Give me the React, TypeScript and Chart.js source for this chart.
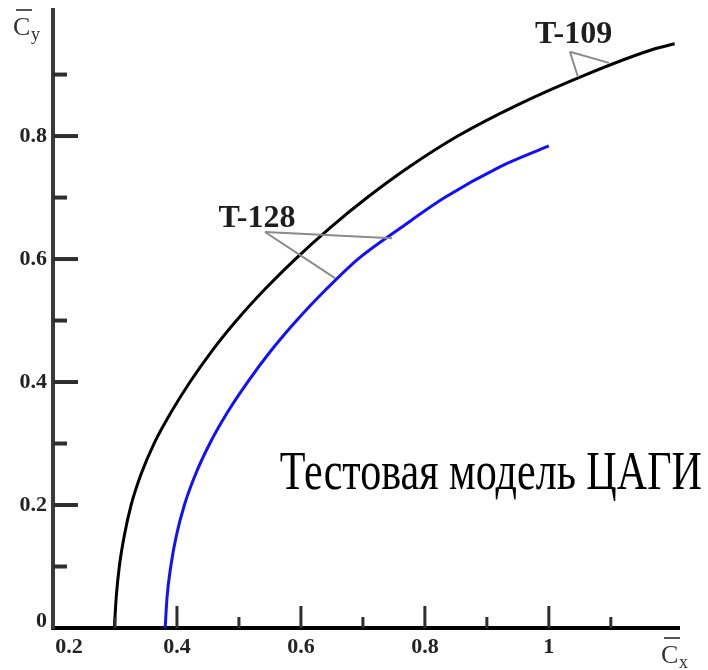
import React, { useEffect, useRef } from 'react';
import { Chart, registerables } from 'chart.js';

Chart.register(...registerables);

// Polar curves Cy(Cx) measured in two wind tunnels
const T109_CY = [0.00, 0.05, 0.10, 0.15, 0.20, 0.25, 0.30, 0.35, 0.40, 0.45, 0.50, 0.55, 0.60, 0.65, 0.70, 0.75, 0.80, 0.85, 0.90, 0.94, 0.95];
const T109_CX = [0.299, 0.302, 0.307, 0.315, 0.326, 0.342, 0.363, 0.390, 0.421, 0.456, 0.496, 0.541, 0.591, 0.646, 0.707, 0.775, 0.853, 0.948, 1.060, 1.165, 1.203];

const T128_CY = [0.00, 0.05, 0.10, 0.15, 0.20, 0.25, 0.30, 0.35, 0.40, 0.45, 0.50, 0.55, 0.60, 0.65, 0.70, 0.75, 0.784];
const T128_CX = [0.381, 0.384, 0.390, 0.399, 0.412, 0.430, 0.453, 0.481, 0.514, 0.551, 0.593, 0.640, 0.692, 0.760, 0.832, 0.921, 1.000];

// Axis ranges and tick marks
const X_MIN = 0.2;
const X_MAX = 1.21;
const Y_MIN = 0;
const Y_MAX = 1.005;
const X_MAJOR_TICKS = [0.4, 0.6, 0.8, 1.0];
const X_MINOR_TICKS = [0.3, 0.5, 0.7, 0.9, 1.1];
const Y_MAJOR_TICKS = [0.2, 0.4, 0.6, 0.8];
const Y_MINOR_TICKS = [0.1, 0.3, 0.5, 0.7, 0.9];
const X_LABEL_VALUES = [0.2, 0.4, 0.6, 0.8, 1.0];
const X_LABEL_TEXT = ['0.2', '0.4', '0.6', '0.8', '1'];
const Y_LABEL_VALUES = [0, 0.2, 0.4, 0.6, 0.8];
const Y_LABEL_TEXT = ['0', '0.2', '0.4', '0.6', '0.8'];

// Callouts naming each curve: label anchor, leader vertex, leader ends (data units)
const CALLOUT_NAMES = ['T-128', 'T-109'];
const CALLOUT_TEXT_AT = [[0.529, 0.652], [1.040, 0.951]];
const CALLOUT_VERTEX = [[0.542, 0.644], [1.034, 0.937]];
const CALLOUT_ENDS = [
  [[0.747, 0.634], [0.655, 0.569]],
  [[1.097, 0.919], [1.047, 0.896]],
];

const CAPTION = 'Тестовая модель ЦАГИ';
const CAPTION_AT = [0.566, 0.226];
const CAPTION_WIDTH = 422;

const SERIF = '"Liberation Serif", "DejaVu Serif", serif';

const decorPlugin = {
  id: 'polarDecor',
  afterDraw(chart: any) {
    const { ctx, chartArea } = chart;
    const xs = chart.scales.x;
    const ys = chart.scales.y;
    const px = (v: number) => xs.getPixelForValue(v);
    const py = (v: number) => ys.getPixelForValue(v);
    const x0 = px(X_MIN);
    const y0 = py(Y_MIN);

    ctx.save();

    // inward tick marks
    ctx.strokeStyle = '#2e2e2e';
    ctx.lineCap = 'butt';
    ctx.lineWidth = 3;
    const xTick = (v: number, len: number) => {
      const p = px(v);
      ctx.beginPath();
      ctx.moveTo(p, y0);
      ctx.lineTo(p, y0 - len);
      ctx.stroke();
    };
    X_MAJOR_TICKS.forEach((v) => xTick(v, 22));
    X_MINOR_TICKS.forEach((v) => xTick(v, 11));
    ctx.lineWidth = 4;
    const yTick = (v: number, len: number) => {
      const p = py(v);
      ctx.beginPath();
      ctx.moveTo(x0, p);
      ctx.lineTo(x0 + len, p);
      ctx.stroke();
    };
    Y_MAJOR_TICKS.forEach((v) => yTick(v, 25));
    Y_MINOR_TICKS.forEach((v) => yTick(v, 14));

    // tick labels
    ctx.fillStyle = '#222';
    ctx.font = `bold 22px ${SERIF}`;
    ctx.textBaseline = 'middle';
    ctx.textAlign = 'center';
    X_LABEL_VALUES.forEach((v, i) => {
      const nudge = v === X_MIN ? 16 : 0;
      ctx.fillText(X_LABEL_TEXT[i], px(v) + nudge, y0 + 19);
    });
    ctx.textAlign = 'right';
    Y_LABEL_VALUES.forEach((v, i) => {
      const nudge = v === Y_MIN ? -7 : 0;
      ctx.fillText(Y_LABEL_TEXT[i], x0 - 6, py(v) + nudge);
    });

    // axis titles with overbar and subscript
    const axisTitle = (left: number, base: number, sub: string) => {
      ctx.fillStyle = '#333';
      ctx.strokeStyle = '#555';
      ctx.textAlign = 'left';
      ctx.textBaseline = 'alphabetic';
      ctx.font = `26px ${SERIF}`;
      ctx.fillText('C', left, base);
      ctx.lineWidth = 2;
      ctx.beginPath();
      ctx.moveTo(left + 3, base - 25);
      ctx.lineTo(left + 19, base - 25);
      ctx.stroke();
      ctx.font = `18px ${SERIF}`;
      ctx.fillText(sub, left + 18, base + 5);
    };
    axisTitle(chartArea.left - 40, chartArea.top + 25, 'y');
    axisTitle(chartArea.right - 18, y0 + 35, 'x');

    // callout leaders and names
    ctx.strokeStyle = '#8a8a8a';
    ctx.lineWidth = 2;
    CALLOUT_NAMES.forEach((name, i) => {
      const [vx, vy] = CALLOUT_VERTEX[i];
      CALLOUT_ENDS[i].forEach(([ex, ey]) => {
        ctx.beginPath();
        ctx.moveTo(px(vx), py(vy));
        ctx.lineTo(px(ex), py(ey));
        ctx.stroke();
      });
      ctx.fillStyle = '#1e1e1e';
      ctx.font = `bold 32px ${SERIF}`;
      ctx.textAlign = 'center';
      ctx.textBaseline = 'alphabetic';
      ctx.fillText(name, px(CALLOUT_TEXT_AT[i][0]), py(CALLOUT_TEXT_AT[i][1]));
    });

    // caption
    ctx.fillStyle = '#000';
    ctx.font = `54px ${SERIF}`;
    ctx.textAlign = 'left';
    ctx.textBaseline = 'alphabetic';
    const w = ctx.measureText(CAPTION).width;
    ctx.translate(px(CAPTION_AT[0]), py(CAPTION_AT[1]));
    ctx.scale(CAPTION_WIDTH / w, 1);
    ctx.fillText(CAPTION, 0, 0);

    ctx.restore();
  },
};

const toPoints = (xs: number[], ys: number[]) => xs.map((x, i) => ({ x, y: ys[i] }));

export default function App() {
  const canvasRef = useRef<HTMLCanvasElement | null>(null);

  useEffect(() => {
    if (!canvasRef.current) return;
    const chart = new Chart(canvasRef.current, {
      type: 'scatter',
      data: {
        datasets: [
          {
            label: 'T-109',
            data: toPoints(T109_CX, T109_CY),
            showLine: true,
            borderColor: '#000000',
            borderWidth: 3,
            pointRadius: 0,
            cubicInterpolationMode: 'monotone',
          },
          {
            label: 'T-128',
            data: toPoints(T128_CX, T128_CY),
            showLine: true,
            borderColor: '#1010ff',
            borderWidth: 3,
            pointRadius: 0,
            cubicInterpolationMode: 'monotone',
          },
        ],
      },
      options: {
        animation: false,
        responsive: true,
        maintainAspectRatio: false,
        layout: { padding: { left: 53, right: 29, top: 10, bottom: 42 } },
        plugins: { legend: { display: false }, tooltip: { enabled: false } },
        scales: {
          x: {
            type: 'linear',
            min: X_MIN,
            max: X_MAX,
            ticks: { display: false },
            grid: { drawOnChartArea: false, drawTicks: false },
            border: { display: true, color: '#000', width: 4 },
          },
          y: {
            type: 'linear',
            min: Y_MIN,
            max: Y_MAX,
            ticks: { display: false },
            grid: { drawOnChartArea: false, drawTicks: false },
            border: { display: true, color: '#3a3a3a', width: 4 },
          },
        },
      },
      plugins: [decorPlugin],
    });
    return () => chart.destroy();
  }, []);

  return (
    <div style={{ position: 'absolute', left: 0, top: 0, width: 708, height: 670, background: '#fff' }}>
      <canvas ref={canvasRef} />
    </div>
  );
}
